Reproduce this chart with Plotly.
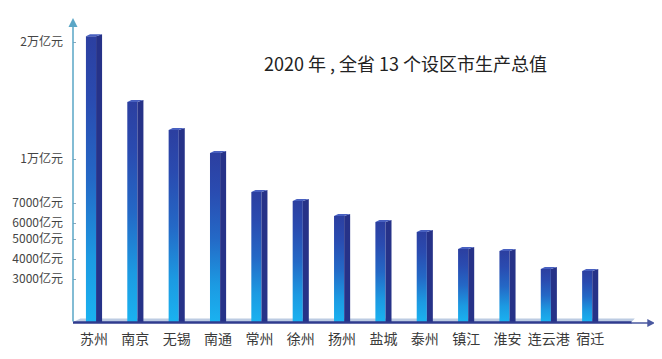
import numpy as np
import plotly.graph_objects as go

# ---- data (亿元) ----
cities = ["苏州", "南京", "无锡", "南通", "常州", "徐州", "扬州",
          "盐城", "泰州", "镇江", "淮安", "连云港", "宿迁"]
gdp = [20500, 14870, 12480, 10510, 7750, 7140, 6350,
       6050, 5440, 4500, 4400, 3500, 3400]

tick_values = [3000, 4000, 5000, 6000, 7000, 10000, 20000]
tick_labels = ["3000亿元", "4000亿元", "5000亿元", "6000亿元",
               "7000亿元", "1万亿元", "2万亿元"]

# the picture's value axis is piecewise (not uniform): value -> drawn height
scale_values = [0, 3000, 4000, 5000, 6000, 7000, 10000, 20000, 30000]
scale_heights = [0, 43, 63, 83, 99, 119, 163, 280, 397]


def to_h(v):
    return np.interp(v, scale_values, scale_heights)


title_text = "2020 年 , 全省 13 个设区市生产总值"

# ---- style ----
front_scale = [[0.0, "#1ab2f0"], [0.22, "#1c9ae2"], [0.5, "#2468c6"],
               [0.78, "#2a4bb0"], [1.0, "#2c3fa0"]]
side_color = "#263288"
cap_color = "#4860c0"
xa = -0.508
fw_l, fw_r, sw = 0.195, 0.05, 0.195

# page body has an 8px margin; the figure is sized to fit the 662x359 window
W, H = 654, 351
ML, MB = 65, 32
PH = H - MB  # plot height

fig = go.Figure()
heights = to_h(np.array(gdp, dtype=float))
for i, h in enumerate(heights):
    # front face with vertical gradient
    fig.add_trace(go.Scatter(
        x=[i - fw_l, i + fw_r, i + fw_r, i - fw_l, i - fw_l],
        y=[0, 0, h, h, 0], mode="lines", fill="toself",
        fillgradient=dict(type="vertical", colorscale=front_scale),
        line=dict(width=0, color="rgba(0,0,0,0)"), hoverinfo="skip",
        showlegend=False))
    # dark right side
    fig.add_trace(go.Scatter(
        x=[i + fw_r, i + sw, i + sw, i + fw_r, i + fw_r],
        y=[0, 0, h + 2, h, 0], mode="lines", fill="toself",
        fillcolor=side_color, line=dict(width=0, color="rgba(0,0,0,0)"),
        hoverinfo="skip", showlegend=False))
    # top cap
    fig.add_trace(go.Scatter(
        x=[i - fw_l, i + fw_r, i + sw, i - fw_l + 0.1, i - fw_l],
        y=[h, h, h + 2, h + 2, h], mode="lines", fill="toself",
        fillcolor=cap_color, line=dict(width=0, color="rgba(0,0,0,0)"),
        hoverinfo="skip", showlegend=False))

# floor slab
fig.add_shape(type="path", xref="x", yref="y",
              path=f"M {xa},0 L {xa+0.18},3.5 L 13.08,3.5 L 13.0,0 Z",
              fillcolor="#bccbe2", line=dict(width=0), layer="below")
fig.add_shape(type="rect", xref="x", yref="y", x0=xa, x1=13.0, y0=-1.8, y1=0.8,
              fillcolor="#2f3b8e", line=dict(width=0), layer="above")

# y axis line with arrow
fig.add_annotation(x=xa, y=304, ax=xa, ay=-1, xref="x", yref="y",
                   axref="x", ayref="y", text="", showarrow=True,
                   arrowhead=2, arrowsize=1.2, arrowwidth=1.5,
                   arrowcolor="#5aa6c6")
# x axis arrow
fig.add_annotation(x=13.57, y=-1, ax=12.95, ay=-1, xref="x", yref="y",
                   axref="x", ayref="y", text="", showarrow=True,
                   arrowhead=2, arrowsize=1.2, arrowwidth=1.3,
                   arrowcolor="#4a58a0")

# title
fig.add_annotation(x=(405 - 73) / 589, y=1 - 55 / PH, xref="paper", yref="paper",
                   text=title_text, showarrow=False,
                   font=dict(family="Noto Sans CJK SC", size=18, color="#222222"),
                   xanchor="center", yanchor="middle")

fig.update_layout(
    width=W, height=H,
    margin=dict(l=ML, r=0, t=0, b=MB, autoexpand=False),
    paper_bgcolor="white", plot_bgcolor="white",
    showlegend=False, hovermode=False,
    xaxis=dict(range=[xa, 13.737], tickmode="array",
               tickvals=list(range(len(cities))), ticktext=cities,
               showgrid=False, zeroline=False, showline=False, ticks="",
               automargin=False, ticklabelstandoff=2,
               tickfont=dict(family="Noto Sans CJK SC", size=14, color="#3a3a3a")),
    yaxis=dict(range=[-5, PH - 5], tickmode="array",
               tickvals=list(to_h(np.array(tick_values, dtype=float))),
               ticktext=tick_labels, showgrid=False, zeroline=False,
               showline=False, ticks="inside", ticklen=3, tickcolor="#8aaabf",
               ticklabelstandoff=9, automargin=False,
               tickfont=dict(family="Noto Sans CJK SC", size=12, color="#444444")),
)

fig.write_html("out.html")
